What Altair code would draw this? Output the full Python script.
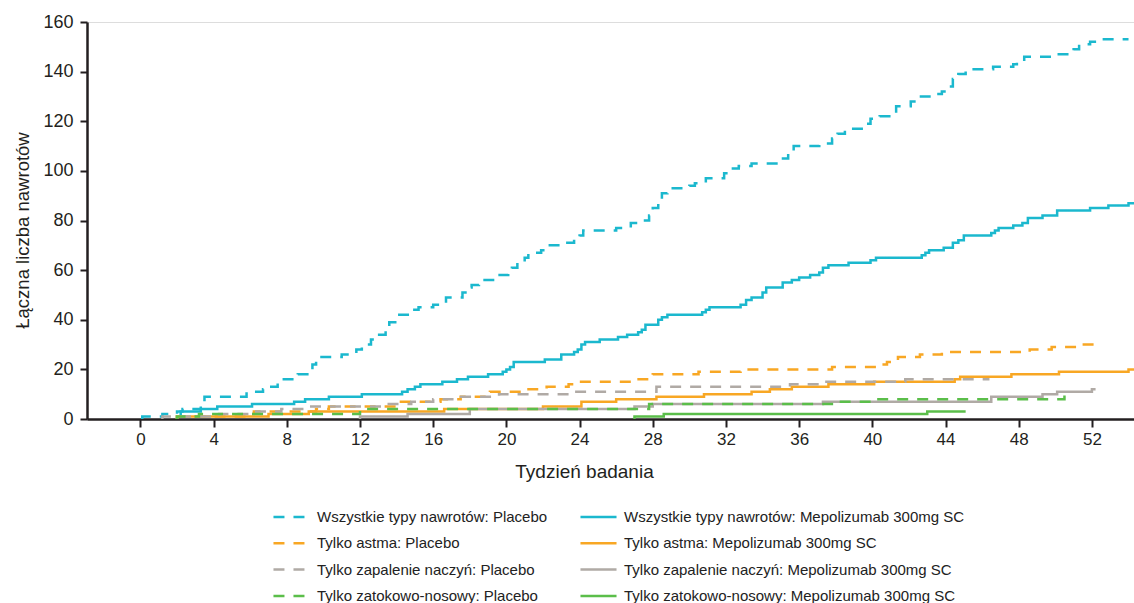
import altair as alt
import pandas as pd

# Series labels; the legend fills column by column, so placebo curves come first
SERIES = [
    "Wszystkie typy nawrotów: Placebo",
    "Tylko astma: Placebo",
    "Tylko zapalenie naczyń: Placebo",
    "Tylko zatokowo-nosowy: Placebo",
    "Wszystkie typy nawrotów: Mepolizumab 300mg SC",
    "Tylko astma: Mepolizumab 300mg SC",
    "Tylko zapalenie naczyń: Mepolizumab 300mg SC",
    "Tylko zatokowo-nosowy: Mepolizumab 300mg SC",
]
COLORS = ["#1bb8ce", "#f8a724", "#b0aaa5", "#5bbe4a",
          "#1bb8ce", "#f8a724", "#b0aaa5", "#5bbe4a"]
DASHES = [[11, 9], [11, 9], [11, 9], [11, 9], [1, 0], [1, 0], [1, 0], [1, 0]]

# Cumulative event counts: week of each step and count after it
all_pbo_week = [0.1, 1.2, 2.0, 2.3, 3.3, 3.5, 5.8, 6.7, 6.9, 7.5, 7.7, 8.3, 8.6,
                9.2, 9.4, 9.6, 11.0, 11.8, 12.1, 12.6, 12.9, 13.4, 13.6, 14.0,
                14.8, 15.2, 16.0, 16.7, 17.6, 17.9, 18.1, 18.5, 19.4, 20.1, 20.3,
                20.6, 21.0, 21.2, 21.9, 22.1, 23.0, 23.7, 24.0, 24.2, 26.0, 26.8,
                27.4, 27.8, 28.0, 28.3, 28.5, 28.8, 30.0, 30.3, 30.9, 31.9, 32.2,
                32.7, 33.4, 35.0, 35.4, 35.7, 37.1, 37.8, 38.1, 38.5, 39.5, 39.9,
                40.4, 41.0, 41.3, 42.1, 42.5, 43.3, 43.8, 44.1, 44.4, 44.7, 45.1,
                46.6, 47.7, 47.9, 48.3, 49.8, 51.0, 51.3, 51.9, 52.3, 54.0]
all_pbo_n = [1, 2, 3, 4, 6, 9, 11, 12, 13, 15, 16, 17, 18,
             20, 22, 25, 26, 28, 30, 32, 34, 36, 39, 42,
             44, 45, 46, 49, 51, 53, 54, 56, 58, 60, 61,
             63, 65, 67, 68, 70, 71, 73, 74, 76, 77, 79,
             80, 82, 85, 88, 91, 93, 94, 95, 97, 99, 101,
             102, 103, 105, 107, 110, 111, 113, 115, 117, 119, 121,
             122, 123, 126, 128, 130, 131, 132, 134, 137, 139, 141,
             142, 143, 144, 146, 147, 149, 151, 152, 153, 153]

all_mep_week = [2.0, 2.2, 3.3, 4.2, 6.1, 8.4, 9.0, 10.3, 12.1, 14.3, 14.6, 15.0,
                15.3, 16.5, 17.3, 17.9, 19.0, 19.8, 20.0, 20.2, 20.4, 22.1, 23.0,
                23.7, 23.9, 24.1, 24.3, 25.1, 26.1, 26.6, 27.2, 27.4, 27.6, 28.3,
                28.5, 28.8, 30.7, 30.9, 31.1, 32.8, 33.1, 33.4, 34.0, 34.2, 35.1,
                35.6, 36.0, 36.6, 37.1, 37.3, 37.6, 38.7, 39.9, 40.2, 42.7, 42.9,
                43.1, 43.9, 44.4, 44.7, 45.0, 46.5, 46.7, 46.9, 47.7, 48.2, 48.5,
                49.3, 50.1, 51.9, 52.9, 54.0, 54.3]
all_mep_n = [1, 3, 4, 5, 6, 7, 8, 9, 10, 11, 12, 13,
             14, 15, 16, 17, 18, 19, 20, 21, 23, 24, 26,
             27, 28, 30, 31, 32, 33, 34, 35, 36, 38, 40,
             41, 42, 43, 44, 45, 46, 48, 49, 51, 53, 55,
             56, 57, 58, 59, 61, 62, 63, 64, 65, 66, 67,
             68, 69, 71, 72, 74, 75, 76, 77, 78, 79, 81,
             82, 84, 85, 86, 87, 87]

asthma_pbo_week = [2.0, 6.0, 6.2, 9.6, 10.3, 14.0, 16.4, 17.5, 18.8, 19.1, 21.0,
                   22.2, 23.4, 23.8, 27.0, 28.0, 30.5, 32.8, 37.8, 40.5, 40.8,
                   41.4, 42.6, 43.8, 48.6, 49.8, 51.2, 52.2, 52.3]
asthma_pbo_n = [1, 2, 3, 4, 5, 7, 8, 9, 10, 11, 12,
                13, 14, 15, 16, 18, 19, 20, 21, 22, 23,
                25, 26, 27, 28, 29, 30, 31, 31]

asthma_mep_week = [2.0, 7.0, 9.2, 16.6, 22.0, 24.1, 26.0, 28.2, 30.8, 33.4, 34.4,
                   35.6, 37.6, 40.1, 44.5, 44.8, 47.6, 50.2, 54.0, 54.3]
asthma_mep_n = [1, 2, 3, 4, 5, 7, 8, 9, 10, 11, 12,
                13, 14, 15, 16, 17, 18, 19, 20, 20]

vasc_pbo_week = [1.2, 4.3, 6.2, 7.7, 9.2, 13.3, 14.8, 16.0, 17.2, 19.6, 23.6,
                 28.2, 35.5, 37.0, 41.8, 46.4]
vasc_pbo_n = [1, 2, 3, 4, 5, 6, 7, 8, 9, 10, 11,
              13, 14, 15, 16, 16]

vasc_mep_week = [12.0, 14.6, 18.0, 27.0, 28.0, 37.3, 46.5, 49.3, 50.1, 52.0, 52.2]
vasc_mep_n = [1, 2, 4, 5, 6, 7, 9, 10, 11, 12, 12]

sinus_pbo_week = [2.0, 3.2, 12.0, 27.8, 37.9, 40.0, 50.5, 51.0]
sinus_pbo_n = [1, 2, 4, 6, 7, 8, 9, 9]

sinus_mep_week = [27.0, 28.6, 43.0, 45.1]
sinus_mep_n = [1, 2, 3, 3]

X_TICKS = list(range(0, 53, 4))
Y_TICKS = list(range(0, 161, 20))

series_data = {
    "Wszystkie typy nawrotów: Placebo": (all_pbo_week, all_pbo_n),
    "Wszystkie typy nawrotów: Mepolizumab 300mg SC": (all_mep_week, all_mep_n),
    "Tylko astma: Placebo": (asthma_pbo_week, asthma_pbo_n),
    "Tylko astma: Mepolizumab 300mg SC": (asthma_mep_week, asthma_mep_n),
    "Tylko zapalenie naczyń: Placebo": (vasc_pbo_week, vasc_pbo_n),
    "Tylko zapalenie naczyń: Mepolizumab 300mg SC": (vasc_mep_week, vasc_mep_n),
    "Tylko zatokowo-nosowy: Placebo": (sinus_pbo_week, sinus_pbo_n),
    "Tylko zatokowo-nosowy: Mepolizumab 300mg SC": (sinus_mep_week, sinus_mep_n),
}

rows = []
for name, (weeks, counts) in series_data.items():
    # each curve rises from zero at its first event
    rows.append({"seria": name, "tydzien": weeks[0], "n": 0, "k": 0})
    for i, (w, c) in enumerate(zip(weeks, counts)):
        rows.append({"seria": name, "tydzien": w, "n": c, "k": i + 1})
df = pd.DataFrame(rows)

AXIS_COLOR = "#231f20"
FONT = "Liberation Sans"

legend_style = dict(
    title=None,
    orient="none",
    legendX=185,
    legendY=484,
    columns=2,
    columnPadding=31,
    rowPadding=4.3,
    clipHeight=22,
    padding=0,
    symbolType="stroke",
    symbolSize=1300,
    symbolStrokeWidth=2.5,
    labelFont=FONT,
    labelFontSize=15,
    labelColor="#222222",
    labelOffset=6,
    labelLimit=400,
)

chart = (
    alt.Chart(df)
    .mark_line(interpolate="step-after", strokeWidth=2.5, clip=True)
    .encode(
        x=alt.X(
            "tydzien:Q",
            scale=alt.Scale(domain=[-2.92, 54.3], nice=False, zero=False),
            axis=alt.Axis(
                values=X_TICKS,
                title="Tydzień badania",
                titleFontSize=19,
                titleFontWeight="normal",
                titleFont=FONT,
                titleColor=AXIS_COLOR,
                titleX=497,
                titleY=52,
                titleAlign="center",
                titleBaseline="middle",
                labelFontSize=17,
                labelFont=FONT,
                labelColor=AXIS_COLOR,
                labelPadding=4,
                tickSize=8,
                tickWidth=2,
                tickColor=AXIS_COLOR,
                domainColor=AXIS_COLOR,
                domainWidth=2.5,
                grid=False,
            ),
        ),
        y=alt.Y(
            "n:Q",
            scale=alt.Scale(domain=[0, 160], nice=False),
            axis=alt.Axis(
                values=Y_TICKS,
                title="Łączna liczba nawrotów",
                titleFontSize=18.5,
                titleFontWeight="normal",
                titleFont=FONT,
                titleColor=AXIS_COLOR,
                titleX=-65,
                titleY=208,
                titleAlign="center",
                titleBaseline="middle",
                labelFontSize=18,
                labelFont=FONT,
                labelColor=AXIS_COLOR,
                labelPadding=7,
                tickSize=7,
                tickWidth=2,
                tickColor=AXIS_COLOR,
                domainColor=AXIS_COLOR,
                domainWidth=2.5,
                grid=False,
            ),
        ),
        color=alt.Color(
            "seria:N",
            scale=alt.Scale(domain=SERIES, range=COLORS),
            legend=alt.Legend(**legend_style),
        ),
        strokeDash=alt.StrokeDash(
            "seria:N",
            scale=alt.Scale(domain=SERIES, range=DASHES),
            legend=alt.Legend(**legend_style),
        ),
        detail="seria:N",
        order="k:Q",
    )
    .properties(
        width=1047,
        height=397,
        autosize=alt.AutoSizeParams(type="none"),
        padding={"left": 87, "top": 22, "right": 0, "bottom": 184},
    )
    .configure_view(stroke=None)
    .configure(background="white")
)

chart.save("out.html", embed_options={"renderer": "svg", "actions": False})
